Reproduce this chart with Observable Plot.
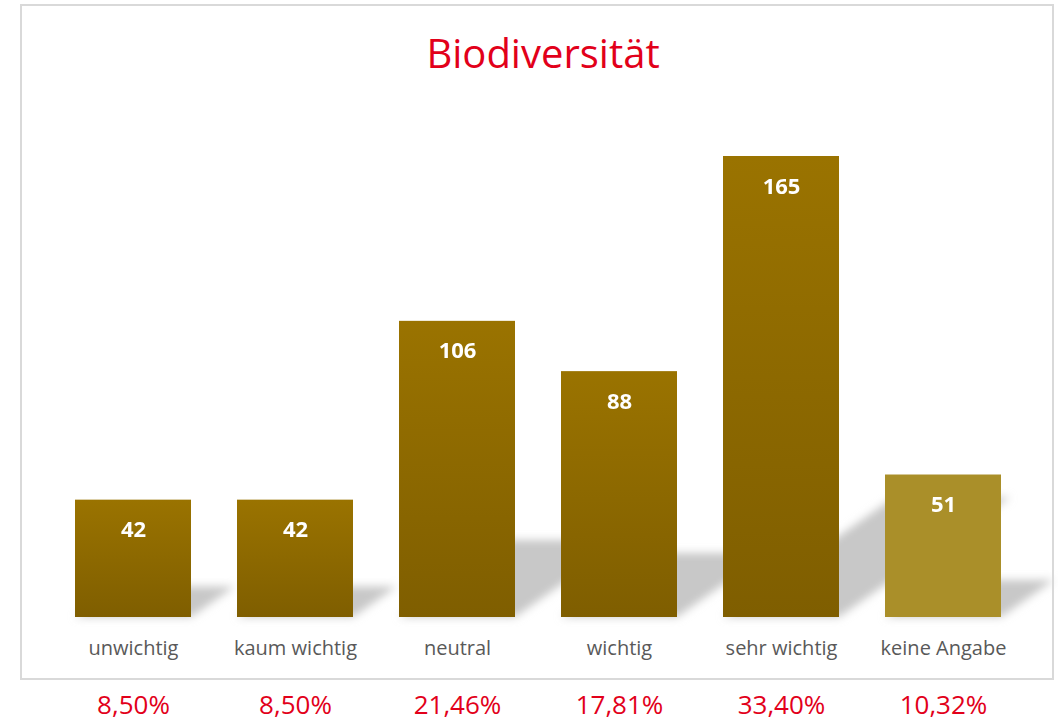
<!DOCTYPE html>
<html><head><meta charset="utf-8">
<script src="https://cdn.jsdelivr.net/npm/d3@7"></script>
<script src="https://cdn.jsdelivr.net/npm/@observablehq/plot@0.6"></script>
<style>
body{margin:0;background:#fff;}
#wrap{position:relative;width:1058px;height:723px;}
#frame{position:absolute;left:20px;top:4px;width:1034px;height:676px;border:2px solid #d9d9d9;box-sizing:border-box;pointer-events:none;}
</style></head><body><div id="wrap"><div id="frame"></div></div>
<script>
const title = "Biodiversität";
const categories = ["unwichtig", "kaum wichtig", "neutral", "wichtig", "sehr wichtig", "keine Angabe"];
const counts = [42, 42, 106, 88, 165, 51];
const percents = ["8,50%", "8,50%", "21,46%", "17,81%", "33,40%", "10,32%"];

const data = categories.map((c, i) => ({category: c, count: counts[i], percent: percents[i], noAnswer: i === categories.length - 1}));

const red = "#e2001a";
const chart = Plot.plot({
  width: 1058, height: 723,
  marginTop: 156, marginBottom: 106, marginLeft: 49.7, marginRight: 32.7,
  style: {fontFamily: "'Open Sans', sans-serif", background: "transparent", overflow: "visible"},
  x: {domain: categories, paddingInner: 0.287, paddingOuter: 0.1435, label: null},
  y: {domain: [0, 165], axis: null},
  color: {type: "identity"},
  marks: [
    Plot.barY(data, {x: "category", y: "count", fill: "#c8c8c8", className: "shadow"}),
    Plot.barY(data, {x: "category", y: "count", fill: d => d.noAnswer ? "#aa8f29" : "url(#barGrad)"}),
    Plot.text(data, {x: "category", y: "count", text: d => String(d.count), dy: 37, lineAnchor: "bottom", fill: "white", fontWeight: "bold", fontSize: 22}),
    Plot.axisX({tickSize: 0, tickPadding: 23, fontSize: 20, fill: "#595959", label: null}),
    Plot.text(data, {x: "category", y: 0, text: "percent", dy: 96, lineAnchor: "bottom", fill: red, fontSize: 26}),
    Plot.text([title], {frameAnchor: "top", dy: -89, dx: 5, lineAnchor: "bottom", fill: red, fontSize: 40})
  ]
});
document.getElementById("wrap").prepend(chart);

const svg = d3.select(chart);
const defs = svg.insert("defs", ":first-child");
const g = defs.append("linearGradient").attr("id", "barGrad").attr("x1", 0).attr("y1", 0).attr("x2", 0).attr("y2", 1);
g.append("stop").attr("offset", "0%").attr("stop-color", "#9a7300");
g.append("stop").attr("offset", "100%").attr("stop-color", "#7f5e00");
const f = defs.append("filter").attr("id", "shadowBlur").attr("x", "-30%").attr("y", "-60%").attr("width", "160%").attr("height", "220%");
f.append("feGaussianBlur").attr("stdDeviation", 4.5);

svg.selectAll(".shadow").attr("filter", "url(#shadowBlur)");
svg.selectAll(".shadow rect").each(function() {
  const r = d3.select(this);
  const x = +r.attr("x"), y = +r.attr("y"), h = +r.attr("height");
  const b = y + h;
  r.attr("transform", `translate(${x},${b}) skewX(-55) scale(1,0.26) translate(${-x},${-b})`);
});
</script></body></html>
